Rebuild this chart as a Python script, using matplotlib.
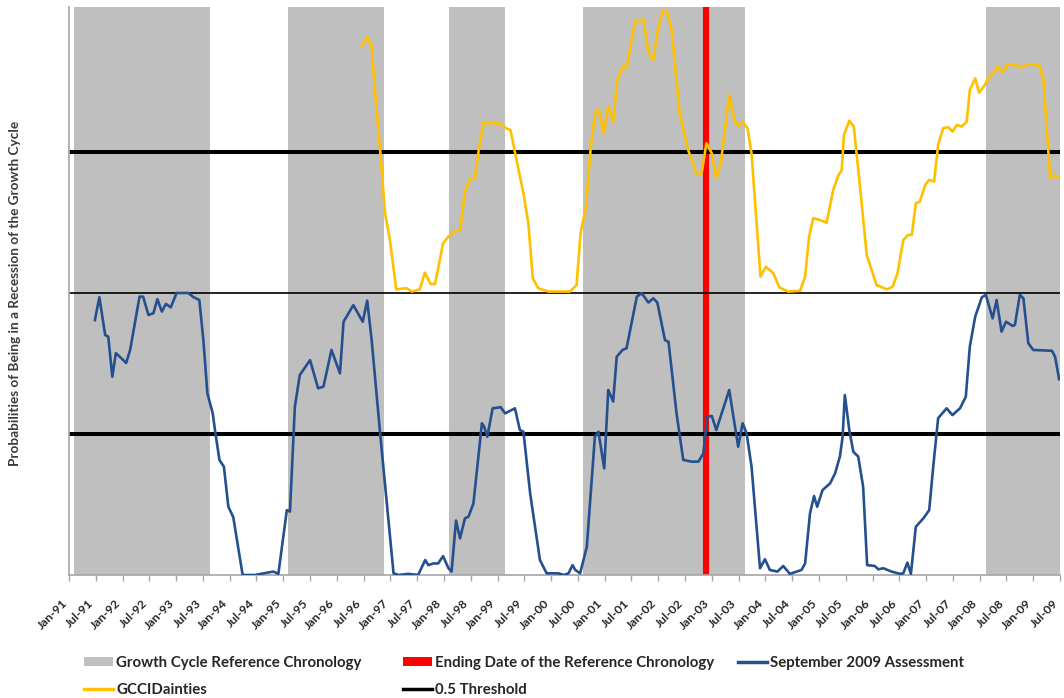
import matplotlib.pyplot as plt
from matplotlib.patches import Patch
from matplotlib.lines import Line2D

# x values are months counted from Jan-91 (0 = Jan-91, 222 = Jul-09)
recession_starts = [1.1, 49.1, 85.1, 115.1, 205.4]
recession_ends = [31.6, 70.6, 97.7, 151.4, 222.0]
ending_date = 142.7

# September 2009 assessment (lower panel, 0..1)
sep09_months = [5.8, 6.8, 8.1, 8.8, 9.7, 10.5, 12.8, 13.7, 15.8, 16.6, 17.8, 18.9, 19.8, 20.8,
                21.7, 22.8, 23.4, 24.1, 26.7, 27.9, 29.2, 30.1, 31.0, 32.2, 32.7, 33.7, 34.7,
                35.7, 36.8, 38.9, 41.7, 44.3, 45.8, 46.9, 48.8, 49.5, 50.6, 51.7, 54.0, 55.8,
                57.0, 58.8, 60.7, 61.5, 63.7, 65.8, 66.8, 67.8, 69.7, 72.7, 73.8, 76.0, 78.2,
                79.8, 80.5, 81.6, 82.7, 83.8, 85.0, 85.7, 86.7, 87.6, 88.7, 89.5, 90.6, 92.5,
                93.0, 93.7, 94.9, 96.7, 97.7, 99.9, 101.0, 101.8, 103.3, 105.5, 107.0, 109.6,
                110.9, 111.9, 112.8, 113.4, 114.5, 116.0, 117.8, 118.6, 119.9, 120.8, 121.3,
                121.9, 122.7, 124.0, 124.9, 126.3, 127.2, 128.3, 129.8, 130.9, 131.8, 133.5,
                134.3, 136.1, 137.6, 139.5, 141.0, 142.1, 143.0, 144.0, 145.0, 147.9, 149.9,
                150.9, 151.8, 152.9, 154.8, 155.9, 157.0, 158.7, 160.0, 161.5, 163.0, 164.1,
                164.9, 166.0, 166.9, 167.6, 168.8, 170.5, 171.6, 172.7, 173.3, 173.8, 174.8,
                175.7, 176.8, 177.9, 178.8, 180.5, 181.3, 182.4, 184.3, 186.2, 186.9, 187.8,
                188.6, 189.7, 191.4, 192.7, 193.6, 194.7, 196.6, 197.9, 199.6, 200.9, 201.8,
                203.0, 204.5, 205.4, 206.9, 207.8, 208.9, 209.9, 211.4, 211.9, 213.0, 213.8,
                214.9, 216.0, 220.2, 220.9, 221.8]
sep09_values = [0.904, 0.985, 0.851, 0.845, 0.703, 0.787, 0.752, 0.798, 0.987, 0.987, 0.922,
                0.928, 0.978, 0.934, 0.961, 0.949, 0.973, 1.0, 1.0, 0.985, 0.975, 0.833, 0.644,
                0.573, 0.514, 0.408, 0.384, 0.242, 0.205, 0.0, 0.0, 0.008, 0.012, 0.004, 0.23,
                0.225, 0.597, 0.709, 0.762, 0.662, 0.668, 0.798, 0.715, 0.898, 0.957, 0.898,
                0.973, 0.833, 0.502, 0.006, 0.0, 0.004, 0.0, 0.053, 0.035, 0.041, 0.041, 0.067,
                0.024, 0.012, 0.193, 0.13, 0.201, 0.207, 0.254, 0.538, 0.526, 0.49, 0.591,
                0.595, 0.573, 0.591, 0.514, 0.508, 0.29, 0.053, 0.006, 0.006, 0.0, 0.006, 0.035,
                0.018, 0.006, 0.1, 0.49, 0.508, 0.378, 0.656, 0.638, 0.615, 0.774, 0.798, 0.804,
                0.916, 0.987, 0.999, 0.966, 0.981, 0.966, 0.833, 0.827, 0.573, 0.408, 0.402,
                0.402, 0.431, 0.561, 0.564, 0.514, 0.656, 0.455, 0.538, 0.502, 0.384, 0.024,
                0.056, 0.018, 0.012, 0.032, 0.004, 0.012, 0.018, 0.041, 0.219, 0.28, 0.242,
                0.301, 0.325, 0.36, 0.42, 0.49, 0.638, 0.514, 0.437, 0.42, 0.313, 0.035, 0.032,
                0.02, 0.024, 0.012, 0.004, 0.006, 0.044, 0.004, 0.171, 0.201, 0.23, 0.384,
                0.556, 0.591, 0.567, 0.591, 0.632, 0.81, 0.916, 0.985, 0.993, 0.91, 0.975,
                0.863, 0.898, 0.883, 0.887, 0.993, 0.981, 0.822, 0.798, 0.795, 0.774, 0.694]

# GCCI Dainties (upper panel, drawn shifted up by 1)
gcci_months = [65.6, 66.8, 67.8, 68.9, 69.7, 70.8, 71.9, 73.3, 75.6, 76.8, 78.6, 79.7, 81.0,
               82.0, 83.8, 85.0, 86.5, 87.6, 88.7, 89.7, 90.9, 91.9, 92.8, 95.4, 96.9, 97.9,
               98.9, 100.1, 101.8, 102.9, 103.9, 105.1, 107.4, 112.2, 113.7, 114.6, 115.8,
               116.9, 117.8, 118.6, 119.8, 120.8, 121.9, 122.8, 124.0, 124.9, 126.8, 128.7,
               129.8, 130.9, 132.0, 133.0, 133.9, 135.0, 136.8, 138.7, 140.7, 141.7, 142.8,
               144.0, 145.0, 146.0, 147.9, 149.2, 149.9, 150.9, 152.0, 152.9, 154.9, 156.1,
               157.8, 159.1, 161.1, 163.8, 164.9, 165.8, 166.7, 168.2, 169.7, 171.2, 172.3,
               173.1, 173.6, 174.8, 175.8, 177.2, 178.7, 180.9, 183.2, 184.5, 185.6, 186.9,
               188.0, 188.8, 189.7, 190.6, 191.8, 192.7, 193.8, 194.7, 195.8, 197.0, 197.9,
               198.9, 200.0, 201.1, 201.8, 203.0, 203.9, 205.2, 206.2, 207.1, 208.0, 209.2,
               210.1, 211.9, 213.4, 214.9, 217.5, 218.3, 219.8, 220.7, 221.8]
gcci_values = [0.876, 0.909, 0.873, 0.649, 0.507, 0.283, 0.188, 0.013, 0.017, 0.005, 0.013,
               0.072, 0.032, 0.032, 0.176, 0.2, 0.221, 0.221, 0.359, 0.401, 0.407, 0.519, 0.602,
               0.602, 0.599, 0.584, 0.578, 0.483, 0.354, 0.247, 0.052, 0.017, 0.005, 0.005,
               0.028, 0.212, 0.306, 0.519, 0.631, 0.651, 0.566, 0.663, 0.607, 0.755, 0.802,
               0.797, 0.962, 0.97, 0.85, 0.826, 0.944, 1.0, 1.0, 0.933, 0.637, 0.507, 0.418,
               0.424, 0.531, 0.495, 0.407, 0.46, 0.702, 0.607, 0.592, 0.607, 0.584, 0.495,
               0.058, 0.093, 0.07, 0.02, 0.005, 0.008, 0.058, 0.2, 0.265, 0.259, 0.249, 0.365,
               0.415, 0.436, 0.56, 0.611, 0.59, 0.377, 0.135, 0.028, 0.013, 0.022, 0.07, 0.188,
               0.206, 0.206, 0.318, 0.324, 0.383, 0.401, 0.395, 0.525, 0.584, 0.588, 0.572,
               0.596, 0.59, 0.607, 0.72, 0.761, 0.71, 0.738, 0.77, 0.779, 0.802, 0.781, 0.809,
               0.809, 0.8, 0.812, 0.805, 0.755, 0.407, 0.418, 0.407]

tick_months = list(range(0, 223, 6))
tick_labels = [f"{'Jan' if m % 12 == 0 else 'Jul'}-{(91 + m // 12) % 100:02d}" for m in tick_months]

gray = '#BFBFBF'
blue = '#24508F'
gold = '#FFC000'
red = '#FF0000'
text_col = '#262626'

W, H = 1064, 698
fig = plt.figure(figsize=(W / 100, H / 100), dpi=100)
ax = fig.add_axes([69 / W, 1 - 575 / H, (1060 - 69) / W, (575 - 7) / H])

# recession shading
for s, e in zip(recession_starts, recession_ends):
    ax.axvspan(s, e, color=gray, lw=0, zorder=0)

# ending date of the reference chronology
ax.axvline(ending_date, color=red, lw=4.4, zorder=1)

# thresholds and panel separator
ax.axhline(0.5, color='black', lw=2.9, zorder=2)
ax.axhline(1.5, color='black', lw=2.9, zorder=2)
ax.axhline(1.0, color='black', lw=1.2, zorder=2)

ax.plot(sep09_months, sep09_values, color=blue, lw=1.9, zorder=3)
ax.plot(gcci_months, [v + 1 for v in gcci_values], color=gold, lw=1.9, zorder=3)

ax.set_xlim(0, 222)
ax.set_ylim(0, 2.014)
ax.set_yticks([])
ax.set_xticks(tick_months)
ax.set_xticklabels(tick_labels, rotation=45, ha='right', fontsize=8.8,
                   fontfamily='Lato', fontweight='bold', color=text_col)
ax.tick_params(axis='x', length=4, width=1, color='#A6A6A6', pad=12)

for side in ['top', 'right']:
    ax.spines[side].set_visible(False)
for side in ['left', 'bottom']:
    ax.spines[side].set_color('#A6A6A6')
    ax.spines[side].set_linewidth(1.2)

fig.text(15 / W, 1 - 293 / H, 'Probabilities of Being in a Recession of the Growth Cycle',
         rotation=90, ha='center', va='center', fontsize=9.8, fontfamily='Lato',
         fontweight='bold', color='#3a3a3a')

# legend, laid out in columns like the original
leg_font = {'family': 'Lato', 'weight': 'bold', 'size': 10.8}
columns = [
    ([Patch(facecolor=gray, edgecolor='none'), Line2D([], [], color=gold, lw=2.5)],
     ['Growth Cycle Reference Chronology', 'GCCIDainties'], 84),
    ([Patch(facecolor=red, edgecolor='none'), Line2D([], [], color='black', lw=2.5)],
     ['Ending Date of the Reference Chronology', '0.5 Threshold'], 403),
    ([Line2D([], [], color=blue, lw=2.5)], ['September 2009 Assessment'], 738),
]
for handles, labels, x0 in columns:
    leg = fig.legend(handles, labels, loc='upper left', bbox_to_anchor=(x0 / W, 1 - 656 / H),
                     frameon=False, prop=leg_font, handlelength=1.95, handleheight=0.6,
                     handletextpad=0.2, labelspacing=0.85, borderpad=0, borderaxespad=0)
    for t in leg.get_texts():
        t.set_color(text_col)

fig.savefig('out.png', dpi=100)
